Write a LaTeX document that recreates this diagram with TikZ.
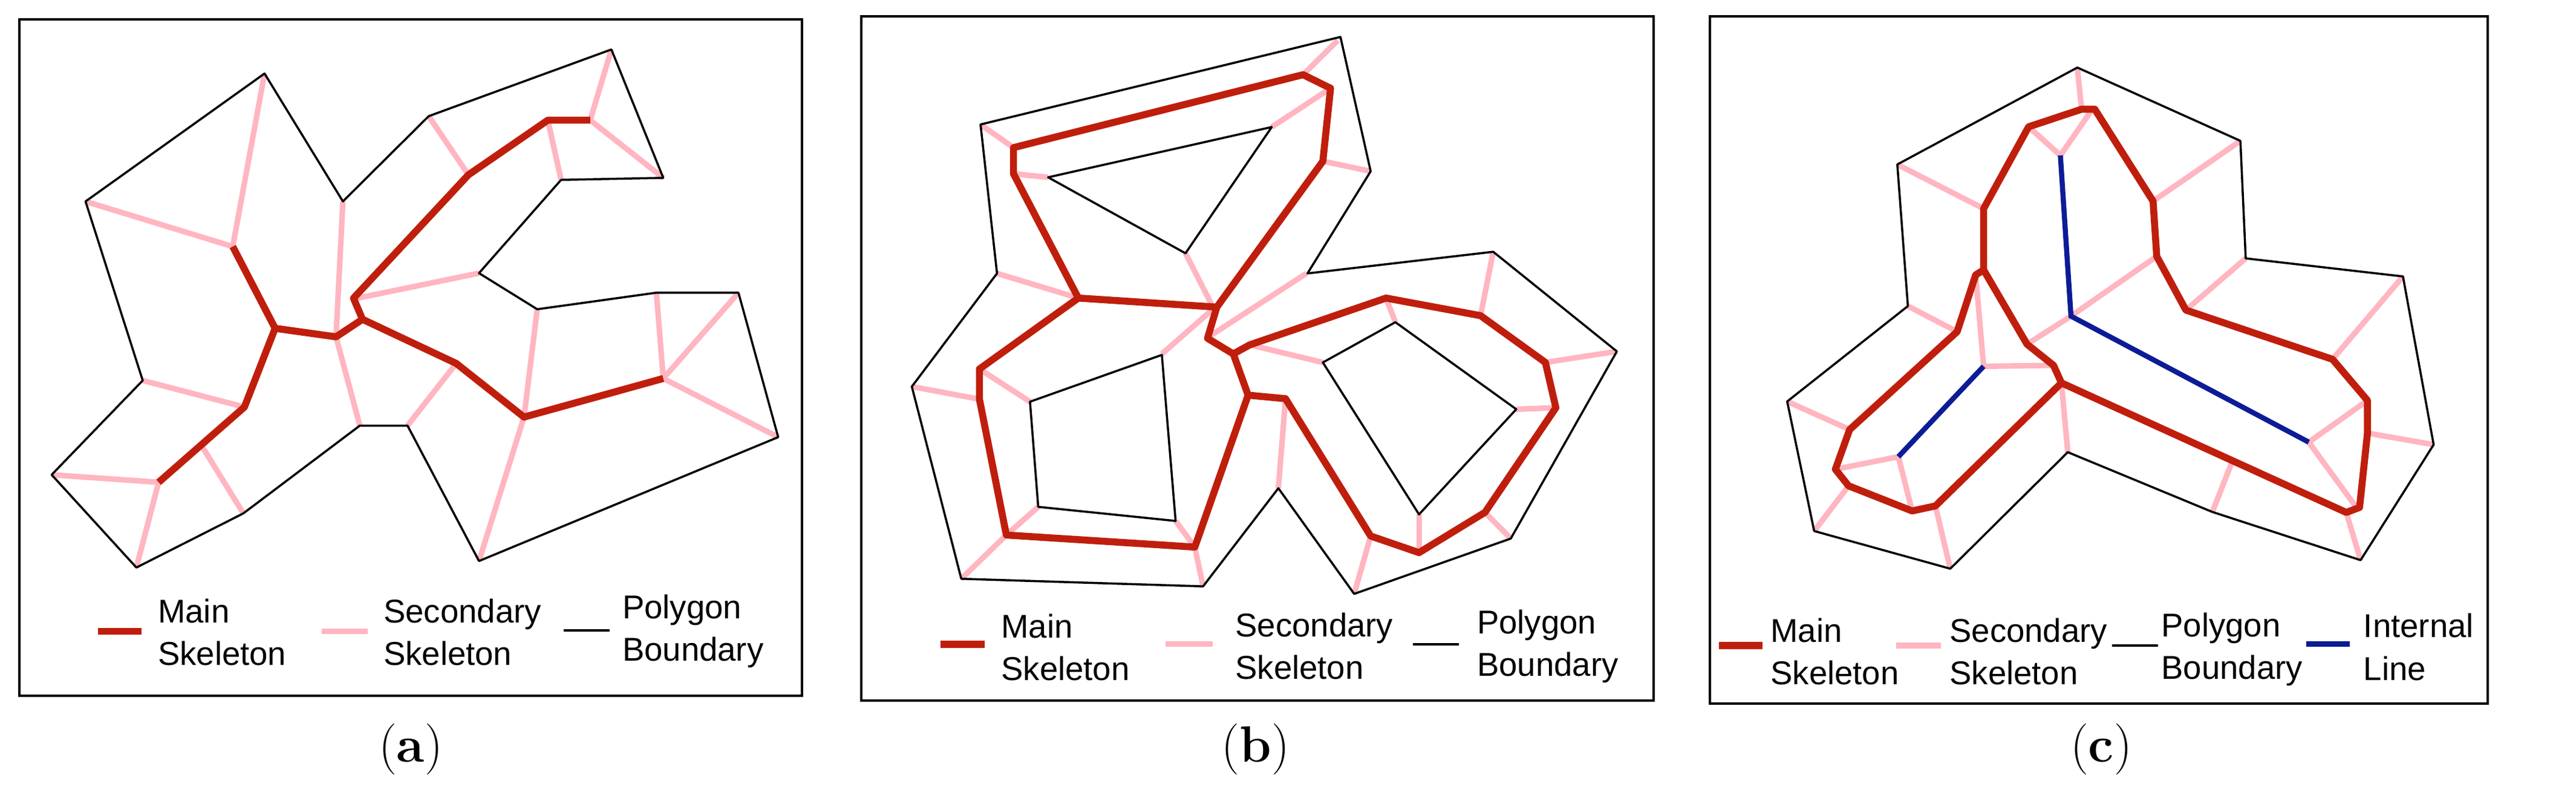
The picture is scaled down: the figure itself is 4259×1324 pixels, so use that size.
\documentclass[tikz,border=0pt]{standalone}
\usepackage{fontspec}
\setsansfont{Liberation Sans}
\begin{document}
\begin{tikzpicture}[x=0.01cm,y=-0.01cm,
  bnd/.style={black,line width=1pt,line join=round},
  mainsk/.style={draw=mred,line width=3.3pt,line join=round},
  secsk/.style={draw=mpink,line width=2.6pt},
  intl/.style={draw=mblue,line width=2.4pt},
  frame/.style={black,line width=1.1pt},
  leg/.style={anchor=west,align=left,font=\sffamily\fontsize{15.5}{20}\selectfont,inner sep=0pt},
  captxt/.style={font=\fontsize{24}{28}\selectfont}]
\definecolor{mred}{RGB}{192,30,12}
\definecolor{mpink}{RGB}{255,182,193}
\definecolor{mblue}{RGB}{12,28,150}
\useasboundingbox (0,0) rectangle (4259,1324);
\fill[white] (0,0) rectangle (4259,1324);
% frames
\draw[frame] (32,32) rectangle (1326,1150);
\draw[frame] (1424,27) rectangle (2734,1158);
\draw[frame] (2827,27) rectangle (4113,1163);
\node[captxt] (capa) at (679,1238) {(\textbf{a})};
\node[captxt] (capb) at (2076,1238) {(\textbf{b})};
\node[captxt] (capc) at (3474,1238) {(\textbf{c})};
% ---------- panel a
\begin{scope}[shift={(-0.4,-2.8)},xscale=0.8755,yscale=0.829]
\foreach \p/\q in {{(500,150)}/{(440,495)},{(162,405)}/{(440,495)},{(648,405)}/{(635,675)},{(810,235)}/{(885,352)},{(1155,102)}/{(1115,243)},{(1253,358)}/{(1115,243)},{(1060,362)}/{(1035,243)},{(905,548)}/{(675,598)},{(1015,620)}/{(990,835)},{(1240,587)}/{(1253,758)},{(1395,587)}/{(1253,758)},{(1470,875)}/{(1253,758)},{(905,1122)}/{(990,835)},{(770,852)}/{(862,728)},{(680,852)}/{(635,675)},{(460,1027)}/{(380,890)},{(270,762)}/{(462,815)},{(98,950)}/{(300,965)},{(258,1135)}/{(300,965)}}
  \draw[secsk] \p -- \q;
\draw[bnd] (500,150) -- (648,405) -- (810,235) -- (1155,102) -- (1253,358) -- (1060,362) -- (905,548) -- (1015,620) -- (1240,587) -- (1395,587) -- (1470,875) -- (905,1122) -- (770,852) -- (680,852) -- (460,1027) -- (258,1135) -- (98,950) -- (270,762) -- (162,405) -- cycle;
\draw[mainsk] (1115,243) -- (1035,243) -- (885,352) -- (668,598) -- (685,640) -- (862,728) -- (990,835) -- (1253,758);
\draw[mainsk] (685,640) -- (635,675) -- (520,658) -- (440,495);
\draw[mainsk] (520,658) -- (462,815) -- (300,965);
\draw[mainsk] (185,1262) -- (268,1262);
\draw[secsk] (608,1262) -- (695,1262);
\draw[bnd] (1065,1260) -- (1152,1260);
\node[leg] (la1) at (298,1264) {Main\\Skeleton};
\node[leg] (la2) at (724,1264) {Secondary\\Skeleton};
\node[leg] (la3) at (1175,1262) {Polygon\\Boundary};
\end{scope}
% ---------- panel b
\begin{scope}[shift={(1371.3,-3.8)},xscale=0.9085,yscale=0.8316]
\foreach \p/\q in {{(925,85)}/{(862,153)},{(805,257)}/{(905,185)},{(985,345)}/{(898,325)},{(275,252)}/{(335,298)},{(398,357)}/{(335,350)},{(648,508)}/{(697,613)},{(305,548)}/{(453,597)},{(868,548)}/{(693,672)},{(605,708)}/{(697,620)},{(150,773)}/{(273,798)},{(365,803)}/{(273,738)},{(380,1012)}/{(322,1068)},{(240,1155)}/{(322,1068)},{(630,1040)}/{(665,1092)},{(680,1170)}/{(665,1092)},{(817,975)}/{(830,797)},{(898,725)}/{(765,690)},{(1030,645)}/{(1013,597)},{(1208,505)}/{(1185,632)},{(1433,703)}/{(1303,725)},{(1250,818)}/{(1322,815)},{(1240,1075)}/{(1193,1023)},{(1073,1027)}/{(1073,1103)},{(955,1185)}/{(985,1070)}}
  \draw[secsk] \p -- \q;
\draw[bnd] (275,252) -- (930,78) -- (985,345) -- (870,548) -- (1208,505) -- (1433,703) -- (1240,1075) -- (955,1185) -- (817,975) -- (680,1170) -- (240,1155) -- (150,773) -- (305,548) -- cycle;
\draw[bnd] (398,357) -- (805,257) -- (648,508) -- cycle;
\draw[bnd] (365,803) -- (605,710) -- (630,1040) -- (380,1012) -- cycle;
\draw[bnd] (898,725) -- (1030,645) -- (1250,818) -- (1073,1027) -- cycle;
\draw[mainsk] (705,615) -- (898,325) -- (912,180) -- (862,153) -- (335,298) -- (335,350) -- (453,597) -- (705,615);
\draw[mainsk] (453,597) -- (273,738) -- (273,798) -- (322,1068) -- (665,1092) -- (762,790) -- (735,708) -- (688,677) -- (705,615);
\draw[mainsk] (735,708) -- (765,690) -- (1013,597) -- (1185,632) -- (1303,725) -- (1322,815) -- (1193,1023) -- (1073,1103) -- (985,1070) -- (830,797) -- (762,790);
\draw[mainsk] (202,1285) -- (283,1285);
\draw[secsk] (612,1285) -- (697,1285);
\draw[bnd] (1062,1285) -- (1145,1285);
\node[leg] (lb1) at (312,1291) {Main\\Skeleton};
\node[leg] (lb2) at (738,1289) {Secondary\\Skeleton};
\node[leg] (lb3) at (1178,1289) {Polygon\\Boundary};
\end{scope}
% ---------- panel c
\begin{scope}[shift={(2769.2,2.1)},xscale=0.8754,yscale=0.830]
\foreach \p/\q in {{(760,132)}/{(768,215)},{(668,250)}/{(728,307)},{(785,220)}/{(728,307)},{(420,325)}/{(583,413)},{(1068,278)}/{(903,398)},{(910,508)}/{(748,627)},{(1078,512)}/{(965,615)},{(748,627)}/{(665,683)},{(1375,548)}/{(1242,713)},{(440,607)}/{(533,658)},{(568,545)}/{(583,727)},{(583,727)}/{(715,725)},{(212,797)}/{(330,853)},{(303,932)}/{(422,907)},{(422,907)}/{(448,1015)},{(263,1055)}/{(328,965)},{(520,1130)}/{(492,1005)},{(742,898)}/{(730,760)},{(1015,1017)}/{(1052,918)},{(1197,878)}/{(1308,795)},{(1433,883)}/{(1308,860)},{(1197,878)}/{(1285,1005)},{(1295,1113)}/{(1268,1018)}}
  \draw[secsk] \p -- \q;
\draw[bnd] (760,132) -- (1068,278) -- (1078,512) -- (1375,548) -- (1433,883) -- (1295,1113) -- (1015,1017) -- (742,898) -- (520,1130) -- (263,1055) -- (212,797) -- (440,607) -- (420,325) -- cycle;
\draw[mainsk] (583,535) -- (583,413) -- (668,250) -- (768,215) -- (793,215) -- (903,398) -- (910,508) -- (965,615) -- (1242,713) -- (1308,795) -- (1308,860) -- (1293,1008) -- (1268,1018) -- (730,760) -- (492,1005) -- (448,1015) -- (328,965) -- (303,932) -- (330,853) -- (533,658) -- (568,545) -- (583,535) -- (665,683) -- (715,725) -- (730,760);
\draw[intl] (728,307) -- (748,627) -- (1197,878);
\draw[intl] (583,727) -- (422,907);
\draw[mainsk] (83,1283) -- (165,1283);
\draw[secsk] (418,1283) -- (502,1283);
\draw[bnd] (826,1283) -- (913,1283);
\draw[intl] (1192,1280) -- (1275,1280);
\node[leg] (lc1) at (180,1295) {Main\\Skeleton};
\node[leg] (lc2) at (518,1295) {Secondary\\Skeleton};
\node[leg] (lc3) at (918,1291) {Polygon\\Boundary};
\node[leg] (lc4) at (1300,1286) {Internal\\Line};
\end{scope}
\end{tikzpicture}
\end{document}
